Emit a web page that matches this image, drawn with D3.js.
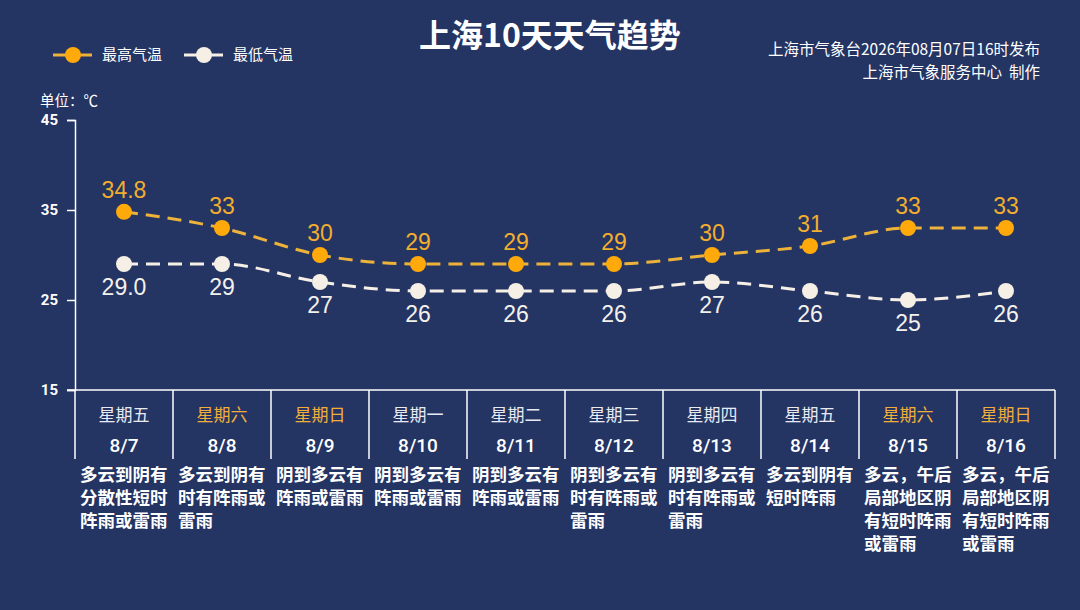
<!DOCTYPE html>
<html>
<head>
<meta charset="utf-8">
<script src="https://cdn.jsdelivr.net/npm/d3@7"></script>
<style>
  html, body { margin: 0; padding: 0; background: #243463; }
  svg { display: block; font-family: "Noto Sans CJK SC", "Noto Sans", sans-serif; }
</style>
</head>
<body>
<div id="chart"></div>
<script>
// Data
const dates = ["8/7", "8/8", "8/9", "8/10", "8/11", "8/12", "8/13", "8/14", "8/15", "8/16"];
const weekdays = ["星期五", "星期六", "星期日", "星期一", "星期二", "星期三", "星期四", "星期五", "星期六", "星期日"];
const weekend = [false, true, true, false, false, false, false, false, true, true];
const highTemps = [34.8, 33, 30, 29, 29, 29, 30, 31, 33, 33];
const lowTemps = [29.0, 29, 27, 26, 26, 26, 27, 26, 25, 26];
const highLabels = ["34.8", "33", "30", "29", "29", "29", "30", "31", "33", "33"];
const lowLabels = ["29.0", "29", "27", "26", "26", "26", "27", "26", "25", "26"];
const yTicks = [15, 25, 35, 45];
const weather = [
    ["多云到阴有", "分散性短时", "阵雨或雷雨"],
    ["多云到阴有", "时有阵雨或", "雷雨"],
    ["阴到多云有", "阵雨或雷雨"],
    ["阴到多云有", "阵雨或雷雨"],
    ["阴到多云有", "阵雨或雷雨"],
    ["阴到多云有", "时有阵雨或", "雷雨"],
    ["阴到多云有", "时有阵雨或", "雷雨"],
    ["多云到阴有", "短时阵雨"],
    ["多云，午后", "局部地区阴", "有短时阵雨", "或雷雨"],
    ["多云，午后", "局部地区阴", "有短时阵雨", "或雷雨"]
];

const W = 1080, H = 610;
const plot = {left: 75, right: 1055, top: 120, bottom: 390};
const orange = "#FFA90A", orangeLine = "#EDB23A", white = "#F6EFE6";

const svg = d3.select("#chart").append("svg")
    .attr("width", W).attr("height", H)
    .attr("viewBox", `0 0 ${W} ${H}`);

svg.append("rect").attr("width", W).attr("height", H).attr("fill", "#243463");

// Scales
const xBand = d3.scaleBand().domain(dates).range([plot.left, plot.right]);
const x = d => xBand(d) + xBand.bandwidth() / 2;
const y = d3.scaleLinear().domain([15, 45]).range([plot.bottom, plot.top]);

// Title
svg.append("text")
    .attr("x", 550).attr("y", 47)
    .attr("text-anchor", "middle")
    .attr("fill", "#fff")
    .style("font-size", "32px").style("font-weight", "bold")
    .text("上海10天天气趋势");

// Credits
svg.append("text")
    .attr("x", 1040).attr("y", 55)
    .attr("text-anchor", "end").attr("fill", "#fff")
    .style("font-size", "15.5px")
    .text("上海市气象台2026年08月07日16时发布");
svg.append("text")
    .attr("x", 1040).attr("y", 78)
    .attr("text-anchor", "end").attr("fill", "#fff")
    .style("font-size", "15.5px").style("white-space", "pre")
    .text("上海市气象服务中心  制作");

// Legend
const legend = [
    {name: "最高气温", line: orangeLine, dot: orange, x: 53},
    {name: "最低气温", line: white, dot: white, x: 184}
];
legend.forEach(l => {
    svg.append("line")
        .attr("x1", l.x).attr("x2", l.x + 39)
        .attr("y1", 55).attr("y2", 55)
        .attr("stroke", l.line).attr("stroke-width", 3);
    svg.append("circle")
        .attr("cx", l.x + 20).attr("cy", 55).attr("r", 8)
        .attr("fill", l.dot);
    svg.append("text")
        .attr("x", l.x + 49).attr("y", 60)
        .attr("fill", "#fff").style("font-size", "15px")
        .text(l.name);
});

// Unit
svg.append("text")
    .attr("x", 40).attr("y", 106)
    .attr("fill", "#fff").style("font-size", "14.5px")
    .text("单位：℃");

// Y axis
const yAxis = svg.append("g")
    .attr("transform", `translate(${plot.left},0)`)
    .call(d3.axisLeft(y).tickValues(yTicks).tickSize(8).tickPadding(9));
yAxis.select(".domain").attr("stroke", "#fff").attr("stroke-width", 1.5);
yAxis.selectAll(".tick line").attr("stroke", "#fff").attr("stroke-width", 1.5);
yAxis.selectAll(".tick text")
    .attr("fill", "#fff")
    .style("font-size", "15px").style("font-weight", "bold")
    .style("font-family", "Roboto, sans-serif");

// Bottom table lines
svg.append("line")
    .attr("x1", plot.left - 8).attr("x2", plot.right)
    .attr("y1", plot.bottom).attr("y2", plot.bottom)
    .attr("stroke", "#fff").attr("stroke-width", 1.5);
const dividers = dates.map(d => xBand(d)).concat([plot.right]);
svg.selectAll(".divider").data(dividers).enter().append("line")
    .attr("class", "divider")
    .attr("x1", d => d).attr("x2", d => d)
    .attr("y1", plot.bottom).attr("y2", 459)
    .attr("stroke", "#fff").attr("stroke-width", 1.5);

// Weekday and date labels
svg.selectAll(".wd").data(weekdays).enter().append("text")
    .attr("x", (d, i) => x(dates[i])).attr("y", 421)
    .attr("text-anchor", "middle")
    .attr("fill", (d, i) => weekend[i] ? "#F2AE3A" : "#E8EAF2")
    .style("font-size", "17px")
    .text(d => d);
svg.selectAll(".dt").data(dates).enter().append("text")
    .attr("x", d => x(d)).attr("y", 452)
    .attr("text-anchor", "middle")
    .attr("fill", "#fff")
    .style("font-size", "19px").style("font-weight", "500")
    .style("font-family", "Roboto, sans-serif")
    .text(d => d);

// Weather descriptions
weather.forEach((lines, i) => {
    const t = svg.append("text")
        .attr("fill", "#fff")
        .style("font-size", "17.5px").style("font-weight", "bold");
    lines.forEach((s, j) => {
        t.append("tspan")
            .attr("x", xBand(dates[i]) + 5)
            .attr("y", 481 + j * 23)
            .text(s);
    });
});

// Lines
const line = d3.line()
    .x((d, i) => x(dates[i]))
    .y(d => y(d))
    .curve(d3.curveMonotoneX);

svg.append("path")
    .datum(highTemps)
    .attr("fill", "none").attr("stroke", orangeLine)
    .attr("stroke-width", 3).attr("stroke-dasharray", "14,8")
    .attr("d", line);
svg.append("path")
    .datum(lowTemps)
    .attr("fill", "none").attr("stroke", white)
    .attr("stroke-width", 3).attr("stroke-dasharray", "14,8")
    .attr("d", line);

// Points
svg.selectAll(".hi").data(highTemps).enter().append("circle")
    .attr("cx", (d, i) => x(dates[i])).attr("cy", d => y(d))
    .attr("r", 8).attr("fill", orange);
svg.selectAll(".lo").data(lowTemps).enter().append("circle")
    .attr("cx", (d, i) => x(dates[i])).attr("cy", d => y(d))
    .attr("r", 8).attr("fill", white);

// Value labels
svg.selectAll(".hil").data(highTemps).enter().append("text")
    .attr("x", (d, i) => x(dates[i])).attr("y", d => y(d) - 14)
    .attr("text-anchor", "middle")
    .attr("fill", "#F2AE2E")
    .style("font-size", "23px")
    .style("font-family", "'Liberation Sans', Arial, sans-serif")
    .text((d, i) => highLabels[i]);
svg.selectAll(".lol").data(lowTemps).enter().append("text")
    .attr("x", (d, i) => x(dates[i])).attr("y", d => y(d) + 31)
    .attr("text-anchor", "middle")
    .attr("fill", "#F4F1EC")
    .style("font-size", "23px")
    .style("font-family", "'Liberation Sans', Arial, sans-serif")
    .text((d, i) => lowLabels[i]);
</script>
</body>
</html>
